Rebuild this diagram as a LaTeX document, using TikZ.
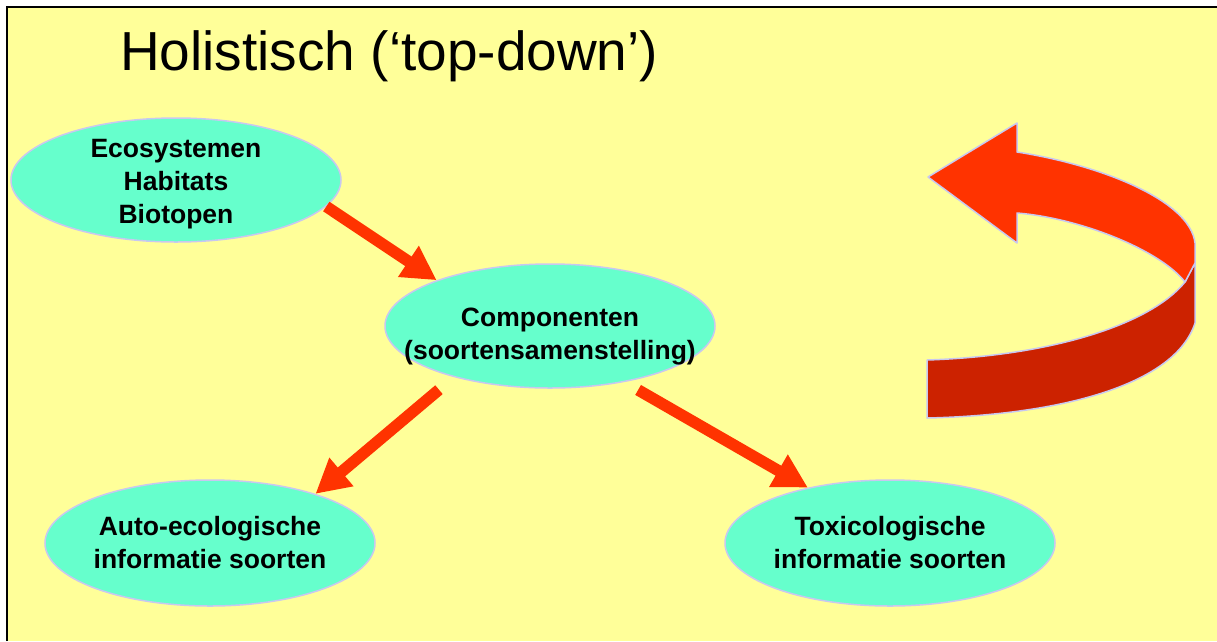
\documentclass[tikz,border=0pt]{standalone}
\usepackage{fontspec}
\setmainfont{Liberation Sans}
\usetikzlibrary{shapes.geometric,arrows.meta}
\definecolor{bg}{HTML}{FFFF99}
\definecolor{bub}{HTML}{66FFCC}
\definecolor{rim}{HTML}{C8C8F0}
\definecolor{arr}{HTML}{FF3300}
\definecolor{arrdark}{HTML}{CC2200}
\begin{document}
\begin{tikzpicture}[x=1pt,y=-1pt,
  bubble/.style={ellipse, draw=rim, line width=1.5pt, fill=bub, minimum width=330pt, minimum height=124pt, inner sep=0pt},
  btext/.style={font=\fontsize{26.5}{33}\selectfont\bfseries, align=center, inner sep=0pt},
  flow/.style={draw=arr, line width=11.5pt, -{Triangle[length=34pt,width=35pt]}},
  ribbon/.style={draw=rim, line width=1.5pt, line join=round}
]
\useasboundingbox (0,0) rectangle (1217,641);
\fill[white] (0,0) rectangle (1217,641);
\fill[bg] (7,7) rectangle (1217,641);
\draw[black, line width=2pt] (7,641) -- (7,7) -- (1217,7);

\node[anchor=base west, font=\fontsize{55}{60}\selectfont, inner sep=0pt] (title) at (120,70) {Holistisch (‘top-down’)};

\node[bubble] (eco) at (176,180) {};
\node[btext] (ecot) at ([yshift=-4pt]eco.center) {Ecosystemen\\Habitats\\Biotopen};
\node[bubble] (comp) at (550,326) {};
\node[btext] (compt) at ([yshift=-11pt]comp.center) {Componenten\\(soortensamenstelling)};
\node[bubble, minimum height=126pt] (auto) at (210,543) {};
\node[btext] (autot) at (auto) {Auto-ecologische\\informatie soorten};
\node[bubble, minimum height=126pt] (tox) at (890,543) {};
\node[btext] (toxt) at (tox) {Toxicologische\\informatie soorten};

\draw[flow] (eco.-10.5) -- (comp.158.2);
\draw[flow, shorten <=19.5pt] (comp.208.4) -- (auto.25.7);
\draw[flow, shorten <=15.8pt] (comp.-37.2) -- (tox.146.5);

% curved ribbon arrow
\filldraw[ribbon, fill=arrdark] (1185,282) -- (1195,263) -- (1195,323)
  .. controls (1175,385) and (1060,415) .. (927,418) -- (927,360)
  .. controls (1050,356) and (1150,325) .. (1185,282) -- cycle;
\filldraw[ribbon, fill=arr] (928,177) -- (1017,123) -- (1017,152)
  .. controls (1100,165) and (1190,200) .. (1195,243) -- (1195,263) -- (1185,282)
  .. controls (1160,250) and (1080,218) .. (1017,213) -- (1017,243) -- cycle;
\end{tikzpicture}
\end{document}
